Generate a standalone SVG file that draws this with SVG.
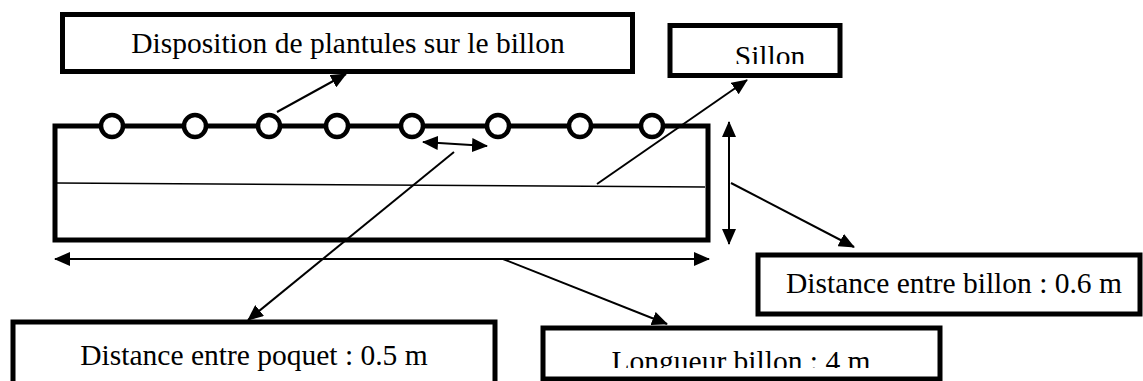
<svg xmlns="http://www.w3.org/2000/svg" width="1143" height="381" viewBox="0 0 1143 381">
<defs>
<style>
.box{fill:#fff;stroke:#000;stroke-width:5}
.lbl{font-family:"Liberation Serif","Times New Roman",serif;font-size:29.5px;fill:#000;text-anchor:middle}
.c{fill:none;stroke:#000;stroke-width:2}
.a{marker-end:url(#ah)}
.d{marker-start:url(#ah);marker-end:url(#ah)}
.plant{fill:#fff;stroke:#000;stroke-width:4.5}
</style>
<marker id="ah" viewBox="0 0 16 14" refX="15" refY="7" markerWidth="16" markerHeight="14" markerUnits="userSpaceOnUse" orient="auto-start-reverse">
<path d="M0,0 L16,7 L0,14 z" fill="#000"/>
</marker>
<clipPath id="clipS"><rect x="672" y="27" width="166" height="37"/></clipPath>
<clipPath id="clipL"><rect x="545" y="330" width="393" height="38"/></clipPath>
</defs>
<g id="billon">
<rect x="55" y="126" width="653" height="114" fill="none" stroke="#000" stroke-width="5"/>
<line x1="57" y1="183" x2="705" y2="187" stroke="#000" stroke-width="1.5"/>
<circle class="plant" cx="112" cy="126" r="11"/>
<circle class="plant" cx="195" cy="126" r="11"/>
<circle class="plant" cx="269" cy="126" r="11"/>
<circle class="plant" cx="337" cy="126" r="11"/>
<circle class="plant" cx="412" cy="126" r="11"/>
<circle class="plant" cx="498" cy="126" r="11"/>
<circle class="plant" cx="580" cy="126" r="11"/>
<circle class="plant" cx="652" cy="126" r="11"/>
</g>
<g id="disposition">
<rect class="box" x="62.5" y="14.5" width="570" height="57"/>
<text class="lbl" x="348" y="53">Disposition de plantules sur le billon</text>
</g>
<g id="sillon">
<rect class="box" x="670" y="25.5" width="170" height="50"/>
<text class="lbl" x="770" y="66" clip-path="url(#clipS)">Sillon</text>
</g>
<g id="distance-billon">
<rect class="box" x="758" y="255" width="382" height="59"/>
<text class="lbl" x="954" y="293">Distance entre billon : 0.6 m</text>
</g>
<g id="distance-poquet">
<rect class="box" x="13" y="322" width="482" height="64"/>
<text class="lbl" x="254" y="365">Distance entre poquet : 0.5 m</text>
</g>
<g id="longueur">
<rect class="box" x="543" y="328" width="397" height="51"/>
<text class="lbl" x="741" y="371" clip-path="url(#clipL)">Longueur billon : 4 m</text>
</g>
<g id="connectors">
<line class="c a" x1="277" y1="112" x2="346" y2="74"/>
<line class="c d" x1="423" y1="142" x2="487" y2="146"/>
<line class="c a" x1="454" y1="152" x2="248" y2="320"/>
<line class="c a" x1="597" y1="184" x2="747" y2="80"/>
<line class="c d" x1="729" y1="122" x2="729" y2="244"/>
<line class="c a" x1="731" y1="183" x2="854" y2="247"/>
<line class="c d" x1="55" y1="259" x2="709" y2="259" stroke-width="2.5"/>
<line class="c a" x1="503" y1="259" x2="667" y2="324"/>
</g>
</svg>
